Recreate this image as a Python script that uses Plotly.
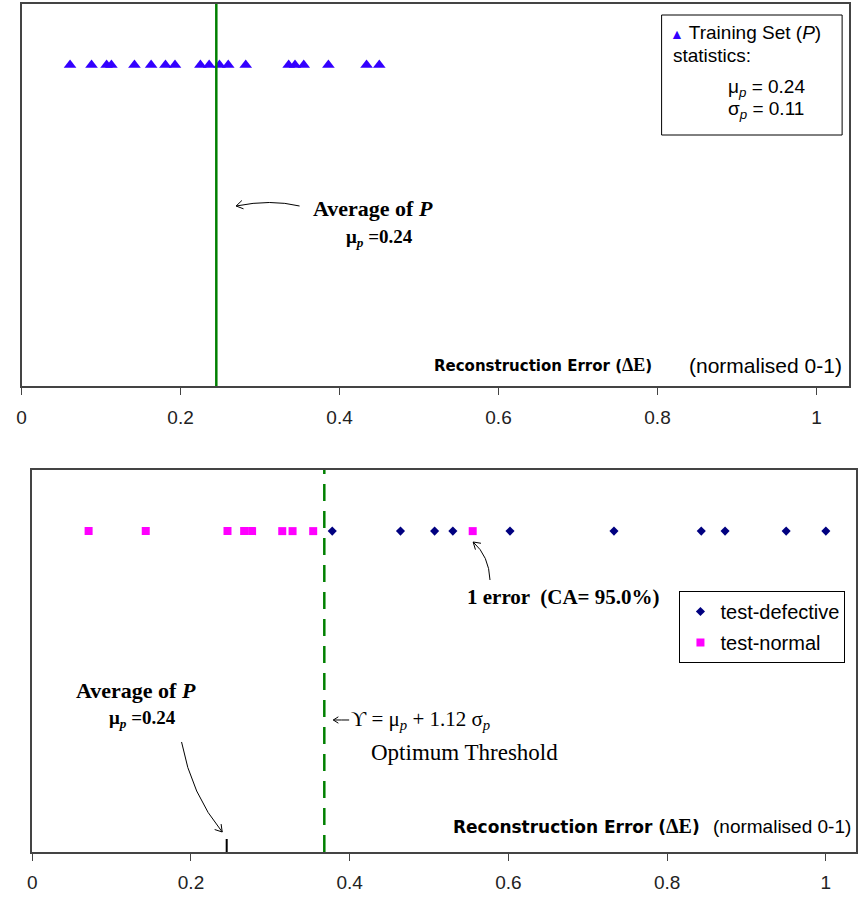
import math
import plotly.graph_objects as go

# ---------------- data ----------------
train_err = [0.061, 0.088, 0.107, 0.113, 0.142, 0.163, 0.181, 0.193, 0.225, 0.236,
             0.249, 0.260, 0.282, 0.336, 0.344, 0.355, 0.386, 0.434, 0.450]
test_normal = [0.071, 0.143, 0.246, 0.267, 0.277, 0.315, 0.328, 0.354, 0.555]
test_defective = [0.378, 0.464, 0.507, 0.530, 0.602, 0.733, 0.843, 0.873, 0.950, 1.000]
mu_p = 0.245
sigma_p = 0.11
threshold = 0.368
tick_vals = [0, 0.2, 0.4, 0.6, 0.8, 1.0]
tick_text = ["0", "0.2", "0.4", "0.6", "0.8", "1"]

# ---------------- layout helpers ----------------
W, H = 858, 898
ROW = 0.84


def px(x):
    return x / W


def py(y):
    return 1 - y / H


SANS = "Liberation Sans"
SERIF = "Liberation Serif"
FRAME = "#444444"

fig = go.Figure()
fig.add_trace(go.Scatter(
    x=train_err, y=[ROW] * len(train_err), mode="markers", xaxis="x", yaxis="y",
    marker=dict(symbol="triangle-up", size=11, color="#3300FF", line=dict(width=0)),
    name="Training Set (P)", showlegend=False))
fig.add_trace(go.Scatter(
    x=test_defective, y=[ROW] * len(test_defective), mode="markers", xaxis="x2", yaxis="y2",
    marker=dict(symbol="diamond", size=7, color="#000080", line=dict(width=0)),
    name="test-defective", legendgroup="d"))
fig.add_trace(go.Scatter(
    x=test_normal, y=[ROW] * len(test_normal), mode="markers", xaxis="x2", yaxis="y2",
    marker=dict(symbol="square", size=8, color="#FF00FF", line=dict(width=0)),
    name="test-normal", legendgroup="n"))

xcommon = dict(showline=True, mirror=True, linecolor=FRAME, linewidth=1.5,
               ticks="outside", ticklen=7, tickcolor=FRAME, tickwidth=1,
               tickvals=tick_vals, ticktext=tick_text,
               tickfont=dict(family=SANS, size=19, color="#222222"),
               showgrid=False, zeroline=False, fixedrange=True)
ycommon = dict(showline=True, mirror=True, linecolor=FRAME, linewidth=1.5,
               range=[0, 1], showticklabels=False, ticks="", showgrid=False,
               zeroline=False, fixedrange=True)

fig.update_layout(
    width=W, height=H, margin=dict(l=0, r=0, t=0, b=0),
    paper_bgcolor="white", plot_bgcolor="white",
    xaxis=dict(domain=[px(16.7), px(851)], range=[0, 1.041], anchor="y",
               ticklabelstandoff=6, **xcommon),
    yaxis=dict(domain=[py(386), py(4)], anchor="x", **ycommon),
    xaxis2=dict(domain=[px(27.5), 1.0], range=[0, 1.038], anchor="y2",
                ticklabelstandoff=5, **xcommon),
    yaxis2=dict(domain=[py(852), py(470)], anchor="x2", **ycommon),
    showlegend=True,
    legend=dict(x=px(680), y=py(591), xanchor="left", yanchor="top",
                bgcolor="white", bordercolor="black", borderwidth=1,
                font=dict(family=SANS, size=20, color="black"),
                traceorder="grouped", tracegroupgap=2, itemclick=False),
)

# vertical reference lines
fig.add_shape(type="line", xref="x", yref="y domain", x0=mu_p, x1=mu_p, y0=0, y1=1,
              line=dict(color="#008000", width=2.5))
fig.add_shape(type="line", xref="x2", yref="y2 domain", x0=threshold, x1=threshold, y0=0, y1=1,
              line=dict(color="#008000", width=2.5, dash="17px,10px"))
fig.add_shape(type="line", xref="x2", yref="y2 domain", x0=mu_p, x1=mu_p, y0=0, y1=0.034,
              line=dict(color="black", width=2))

# top statistics box
fig.add_shape(type="rect", xref="paper", yref="paper", x0=px(662), x1=px(844),
              y0=py(135), y1=py(15), line=dict(color="black", width=1), fillcolor="white",
              layer="above")


def ann(text, x, y, size, family=SANS, xanchor="left", color="black"):
    fig.add_annotation(text=text, x=px(x), y=py(y), xref="paper", yref="paper",
                       xanchor=xanchor, yanchor="middle", showarrow=False,
                       font=dict(family=family, size=size, color=color))


ann("<span style='color:#3300FF;font-size:14px'>▲</span> Training Set (<i>P</i>)", 668, 32, 19)
ann("statistics:", 671, 55, 19)
ann("μ<sub><i>p</i></sub> = 0.24", 727, 88, 19)
ann("σ<sub><i>p</i></sub> = 0.11", 727, 110, 19)

# axis captions (top and bottom panel)
DE = "<span style='font-family:Liberation Serif;font-size:{}px'>ΔE</span>"
ann("<b>Reconstruction Error (" + DE.format(18) + ")</b>",
    654, 365, 15, family="DejaVu Sans", xanchor="right")
ann("(normalised 0-1)", 846, 365, 21, xanchor="right")
ann("<b>Reconstruction Error (" + DE.format(20) + ")</b>",
    703, 826, 17, family="DejaVu Sans", xanchor="right")
ann("(normalised 0-1)", 855, 826, 19, xanchor="right")

# serif annotations
ann("<b>Average of <i>P</i></b>", 371, 209, 22, family=SERIF, xanchor="center")
ann("<b>μ<sub><i>p</i></sub> =0.24</b>", 342, 238, 19, family=SERIF)
ann("<b>Average of <i>P</i></b>", 132, 690, 22, family=SERIF, xanchor="center")
ann("<b>μ<sub><i>p</i></sub> =0.24</b>", 103, 719, 19, family=SERIF)
ann("<b>1 error  (CA= 95.0%)</b>", 464, 597, 21, family=SERIF)
ann("ϒ = μ<sub><i>p</i></sub> + 1.12 σ<sub><i>p</i></sub>", 347, 720, 21, family=SERIF)
ann("Optimum Threshold", 463, 752, 23, family=SERIF, xanchor="center")


# curved arrows with open chevron heads (pixel geometry -> paper coords)
def arrow(p0, c, tip, head=8, ang=32):
    dx, dy = tip[0] - c[0], tip[1] - c[1]
    n = math.hypot(dx, dy)
    ux, uy = dx / n, dy / n
    arms = []
    for s in (1, -1):
        a = math.radians(ang * s)
        rx = ux * math.cos(a) - uy * math.sin(a)
        ry = ux * math.sin(a) + uy * math.cos(a)
        arms.append((tip[0] - head * rx, tip[1] - head * ry))
    f = lambda p: "{:.5f},{:.5f}".format(px(p[0]), py(p[1]))
    path = "M {} Q {} {} M {} L {} L {}".format(
        f(p0), f(c), f(tip), f(arms[0]), f(tip), f(arms[1]))
    fig.add_shape(type="path", xref="paper", yref="paper", path=path,
                  line=dict(color="black", width=1))


arrow((297, 206), (268, 199), (233, 206))
arrow((489, 580), (488, 556), (472, 542))
arrow((178, 742), (188, 795), (219, 832))
arrow((347, 720), (340, 720), (331, 720), head=6)

fig.write_html("out.html", config={"displayModeBar": False},
               post_script="document.body.style.margin='0';"
                           "document.body.style.overflow='hidden';")
